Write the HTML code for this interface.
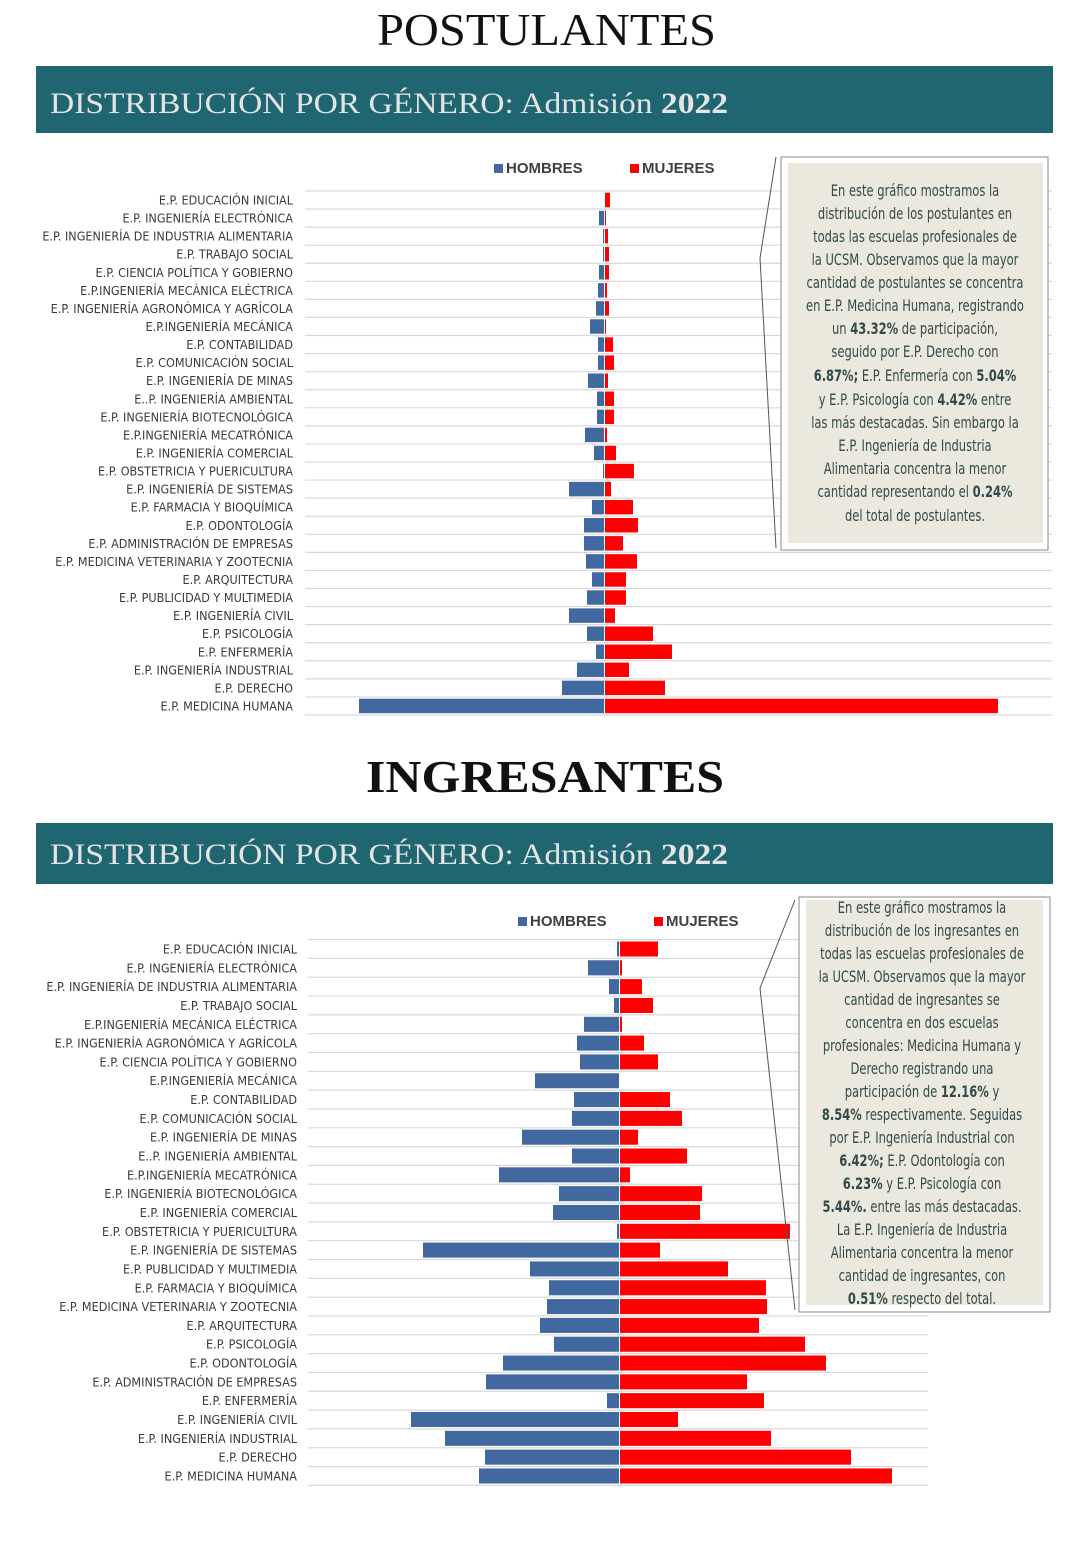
<!DOCTYPE html>
<html><head><meta charset="utf-8"><style>
body{margin:0;background:#fff;width:1091px;height:1543px;overflow:hidden}
svg{display:block}
.lbl{font-family:"Liberation Sans Narrow","DejaVu Sans Condensed","Liberation Sans",sans-serif;font-size:12.5px;fill:#3a3a3a}
.box{font-family:"DejaVu Sans Condensed","Liberation Sans",sans-serif;font-size:16px;fill:#33494a}
.box tspan.b{font-weight:bold}
.leg{font-family:"Liberation Sans","DejaVu Sans",sans-serif;font-weight:bold;font-size:15px;fill:#404040}
.title{font-family:"Liberation Serif",serif;font-size:46px;fill:#111}
.ban{font-family:"Liberation Serif",serif;font-size:30px;fill:#e4e4e4}
</style></head><body>
<svg id="page" width="1091" height="1543" xmlns="http://www.w3.org/2000/svg">
<text class="title" x="377" y="45" textLength="339" lengthAdjust="spacingAndGlyphs">POSTULANTES</text>
<rect x="36" y="66" width="1017" height="67" fill="#1f6670"/>
<text class="ban" x="50" y="113" textLength="678" lengthAdjust="spacingAndGlyphs">DISTRIBUCIÓN POR GÉNERO: Admisión <tspan font-weight="bold">2022</tspan></text>
<text class="title" x="366" y="792" textLength="358" lengthAdjust="spacingAndGlyphs" font-weight="bold">INGRESANTES</text>
<rect x="36" y="823" width="1017" height="61" fill="#1f6670"/>
<text class="ban" x="50" y="864" textLength="678" lengthAdjust="spacingAndGlyphs">DISTRIBUCIÓN POR GÉNERO: Admisión <tspan font-weight="bold">2022</tspan></text>
<g id="c1"></g><g id="c2"></g>
<g>
<polyline points="776,157 760,258 776,548" fill="none" stroke="#555" stroke-width="1"/>
<rect x="781" y="157" width="267" height="393" fill="#fff" stroke="#888"/>
<rect x="788" y="163" width="255" height="380" fill="#ebe9dd"/>
<g class="box" text-anchor="middle" transform="translate(915,0) scale(0.8,1) translate(-915,0)">
<text x="915" y="196">En este gráfico mostramos la</text>
<text x="915" y="219">distribución de los postulantes en</text>
<text x="915" y="242">todas las escuelas profesionales de</text>
<text x="915" y="265">la UCSM. Observamos que la mayor</text>
<text x="915" y="288">cantidad de postulantes se concentra</text>
<text x="915" y="311">en E.P. Medicina Humana, registrando</text>
<text x="915" y="334">un <tspan class="b">43.32%</tspan> de participación,</text>
<text x="915" y="357">seguido por  E.P. Derecho con</text>
<text x="915" y="381"><tspan class="b">6.87%;</tspan> E.P. Enfermería con <tspan class="b">5.04%</tspan></text>
<text x="915" y="405">y E.P. Psicología con <tspan class="b">4.42%</tspan> entre</text>
<text x="915" y="428">las más destacadas. Sin embargo la</text>
<text x="915" y="451">E.P. Ingeniería de Industria</text>
<text x="915" y="474">Alimentaria concentra la menor</text>
<text x="915" y="497">cantidad representando el <tspan class="b">0.24%</tspan></text>
<text x="915" y="521">del total de postulantes.</text>
</g></g>
<g>
<polyline points="795,900 760,988 795,1310" fill="none" stroke="#555" stroke-width="1"/>
<rect x="799" y="897" width="251" height="415" fill="#fff" stroke="#888"/>
<rect x="806" y="900" width="237" height="405" fill="#ebe9dd"/>
<g class="box" text-anchor="middle" transform="translate(922,0) scale(0.8,1) translate(-922,0)">
<text x="922" y="913">En este gráfico mostramos la</text>
<text x="922" y="936">distribución de los ingresantes en</text>
<text x="922" y="959">todas las escuelas profesionales de</text>
<text x="922" y="982">la UCSM. Observamos que la mayor</text>
<text x="922" y="1005">cantidad de ingresantes se</text>
<text x="922" y="1028">concentra en dos escuelas</text>
<text x="922" y="1051">profesionales: Medicina Humana y</text>
<text x="922" y="1074">Derecho registrando una</text>
<text x="922" y="1097">participación de <tspan class="b">12.16%</tspan> y</text>
<text x="922" y="1120"><tspan class="b">8.54%</tspan> respectivamente. Seguidas</text>
<text x="922" y="1143">por E.P. Ingeniería Industrial con</text>
<text x="922" y="1166"><tspan class="b">6.42%;</tspan> E.P. Odontología con</text>
<text x="922" y="1189"><tspan class="b">6.23%</tspan> y E.P. Psicología con</text>
<text x="922" y="1212"><tspan class="b">5.44%.</tspan> entre las más destacadas.</text>
<text x="922" y="1235">La E.P. Ingeniería de Industria</text>
<text x="922" y="1258">Alimentaria concentra la menor</text>
<text x="922" y="1281">cantidad de ingresantes, con</text>
<text x="922" y="1304"><tspan class="b">0.51%</tspan> respecto del total.</text>
</g></g>
</svg>
<script>
const cats1 = ["E.P. EDUCACIÓN INICIAL","E.P. INGENIERÍA ELECTRÓNICA","E.P. INGENIERÍA DE INDUSTRIA ALIMENTARIA","E.P. TRABAJO SOCIAL","E.P. CIENCIA POLÍTICA Y GOBIERNO","E.P.INGENIERÍA MECÁNICA ELÉCTRICA","E.P. INGENIERÍA AGRONÓMICA Y AGRÍCOLA","E.P.INGENIERÍA MECÁNICA","E.P. CONTABILIDAD","E.P. COMUNICACIÓN SOCIAL","E.P. INGENIERÍA DE MINAS","E..P. INGENIERÍA AMBIENTAL","E.P. INGENIERÍA BIOTECNOLÓGICA","E.P.INGENIERÍA MECATRÓNICA","E.P. INGENIERÍA COMERCIAL","E.P. OBSTETRICIA Y PUERICULTURA","E.P. INGENIERÍA DE SISTEMAS","E.P. FARMACIA Y BIOQUÍMICA","E.P. ODONTOLOGÍA","E.P. ADMINISTRACIÓN DE EMPRESAS","E.P. MEDICINA VETERINARIA Y ZOOTECNIA","E.P. ARQUITECTURA","E.P. PUBLICIDAD Y MULTIMEDIA","E.P. INGENIERÍA CIVIL","E.P. PSICOLOGÍA","E.P. ENFERMERÍA","E.P. INGENIERÍA INDUSTRIAL","E.P. DERECHO","E.P. MEDICINA HUMANA"];
const hombres1 = [0,5,1,1,5,6,8,14,6,6,16,7,7,19,10,1,35,12,20,20,18,12,17,35,17,8,27,42,245];
const mujeres1 = [5,1,3,4,4,2,4,1,8,9,3,9,9,2,11,29,6,28,33,18,32,21,21,10,48,67,24,60,393];
const cats2 = ["E.P. EDUCACIÓN INICIAL","E.P. INGENIERÍA ELECTRÓNICA","E.P. INGENIERÍA DE INDUSTRIA ALIMENTARIA","E.P. TRABAJO SOCIAL","E.P.INGENIERÍA MECÁNICA ELÉCTRICA","E.P. INGENIERÍA AGRONÓMICA Y AGRÍCOLA","E.P. CIENCIA POLÍTICA Y GOBIERNO","E.P.INGENIERÍA MECÁNICA","E.P. CONTABILIDAD","E.P. COMUNICACIÓN SOCIAL","E.P. INGENIERÍA DE MINAS","E..P. INGENIERÍA AMBIENTAL","E.P.INGENIERÍA MECATRÓNICA","E.P. INGENIERÍA BIOTECNOLÓGICA","E.P. INGENIERÍA COMERCIAL","E.P. OBSTETRICIA Y PUERICULTURA","E.P. INGENIERÍA DE SISTEMAS","E.P. PUBLICIDAD Y MULTIMEDIA","E.P. FARMACIA Y BIOQUÍMICA","E.P. MEDICINA VETERINARIA Y ZOOTECNIA","E.P. ARQUITECTURA","E.P. PSICOLOGÍA","E.P. ODONTOLOGÍA","E.P. ADMINISTRACIÓN DE EMPRESAS","E.P. ENFERMERÍA","E.P. INGENIERÍA CIVIL","E.P. INGENIERÍA INDUSTRIAL","E.P. DERECHO","E.P. MEDICINA HUMANA"];
const hombres2 = [2,31,10,5,35,42,39,84,45,47,97,47,120,60,66,2,196,89,70,72,79,65,116,133,12,208,174,134,140];
const mujeres2 = [38,2,22,33,2,24,38,0,50,62,18,67,10,82,80,170,40,108,146,147,139,185,206,127,144,58,151,231,272];
const NS='http://www.w3.org/2000/svg';
function mk(parent,tag,attrs){const e=document.createElementNS(NS,tag);for(const k in attrs)e.setAttribute(k,attrs[k]);parent.appendChild(e);return e;}
function chart(gid,cats,H,M,o){
  const g=document.getElementById(gid);
  
  
  const xs=v=>v*o.scale;
  const y=i=>o.y0+i*o.step;
  for(let i=0;i<=cats.length;i++){
    const l=mk(g,'line',{x1:o.gx0,x2:o.gx1,y1:y(i)-o.step/2,y2:y(i)-o.step/2,stroke:'#d9d9d9','stroke-width':1.2});
    
    
  }
  cats.forEach((c,i)=>{
    const t=mk(g,'text',{x:o.lx,y:y(i)+4.5,'text-anchor':'end','class':'lbl'});
    t.textContent=c;
    
    
    const bh=o.step*0.8;
    const hb=mk(g,'rect',{x:o.cx-xs(H[i]),y:y(i)-bh/2,width:xs(H[i]),height:bh,fill:'#41689f'});
    
    
    const mb=mk(g,'rect',{x:o.cx+1,y:y(i)-bh/2,width:xs(M[i]),height:bh,fill:'#ff0000'});
    
    
  });
  const lg=mk(g,'g',{});
  
  
  mk(lg,'rect',{x:o.legx,y:o.legy-9,width:9,height:9,fill:'#41689f'});
  const t1=mk(lg,'text',{x:o.legx+12,y:o.legy,'class':'leg'});t1.textContent='HOMBRES';
  
  
  mk(lg,'rect',{x:o.legx+136,y:o.legy-9,width:9,height:9,fill:'#ff0000'});
  const t2=mk(lg,'text',{x:o.legx+148,y:o.legy,'class':'leg'});t2.textContent='MUJERES';
  
  
}
chart('c1',cats1,hombres1,mujeres1,{name:'chart-postulantes',y0:200,step:18.07,cx:604,scale:1,gx0:305,gx1:1052,lx:293,legx:494,legy:173});
chart('c2',cats2,hombres2,mujeres2,{name:'chart-ingresantes',y0:949,step:18.82,cx:619,scale:1,gx0:308,gx1:928,lx:297,legx:518,legy:926});
</script>
</body></html>
